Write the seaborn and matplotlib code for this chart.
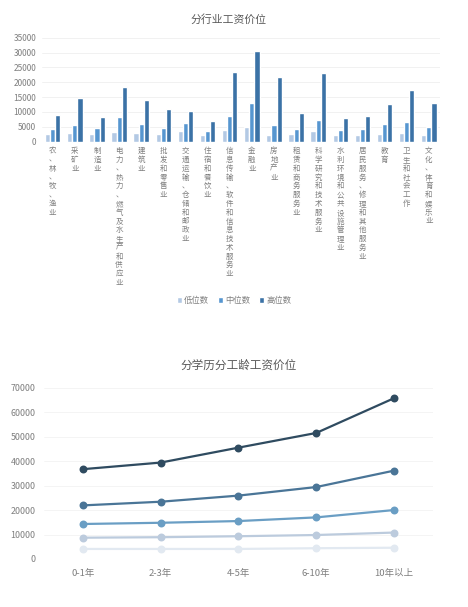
import matplotlib
matplotlib.use("Agg")
import matplotlib.pyplot as plt
import seaborn as sns
import pandas as pd

industries = ["农、林、牧、渔业", "采矿业", "制造业", "电力、热力、燃气及水生产和供应业", "建筑业",
              "批发和零售业", "交通运输、仓储和邮政业", "住宿和餐饮业", "信息传输、软件和信息技术服务业",
              "金融业", "房地产业", "租赁和商务服务业", "科学研究和技术服务业", "水利环境和公共设施管理业",
              "居民服务、修理和其他服务业", "教育", "卫生和社会工作", "文化、体育和娱乐业"]
low_vals = [2500, 2800, 2700, 3100, 2900, 2500, 3600, 2100, 3800, 5000, 2400, 2500, 3500, 2100, 2400, 2600, 2900, 2400]
mid_vals = [4150, 5500, 4600, 8400, 5800, 4700, 6200, 3700, 8600, 12900, 5600, 4300, 7400, 3800, 4400, 5800, 6500, 5000]
high_vals = [8900, 14600, 8400, 18300, 14100, 11000, 10200, 6800, 23600, 30500, 21700, 9800, 23100, 8000, 8750, 12700, 17400, 13100]
bar_series = ["低位数", "中位数", "高位数"]

years = ["0-1年", "2-3年", "4-5年", "6-10年", "10年以上"]
edu_series = ["博士", "硕士", "本科", "大专", "高中及以下"]
line_vals = {
    "博士": [36700, 39400, 45500, 51500, 65700],
    "硕士": [21900, 23400, 25900, 29400, 36100],
    "本科": [14300, 14800, 15500, 17000, 20000],
    "大专": [8700, 8900, 9300, 9800, 10800],
    "高中及以下": [4100, 4100, 4100, 4400, 4600],
}

sns.set_theme(style="white")
plt.rcParams['font.family'] = ['Noto Sans CJK SC', 'DejaVu Sans']
plt.rcParams['axes.unicode_minus'] = False

fig = plt.figure(figsize=(4.68, 6.07), dpi=100)
gray = "#7f7f7f"

# ---- Bar chart ----
ax1 = fig.add_axes([0.089, 0.7666, 0.851, 0.1713])
bar_df = pd.DataFrame({"行业": industries * 3,
                       "系列": sum([[s] * len(industries) for s in bar_series], []),
                       "工资": low_vals + mid_vals + high_vals})
sns.barplot(data=bar_df, x="行业", y="工资", hue="系列", order=industries, hue_order=bar_series,
            palette=["#b3c9e4", "#5696d0", "#3b72a6"], width=0.7, ax=ax1, legend=True,
            saturation=1)
ax1.set_ylim(0, 35000)
ax1.set_yticks(range(0, 35001, 5000))
ax1.set_xlim(-0.5, len(industries) - 0.5)
ax1.yaxis.grid(True, color="#efefef", linewidth=0.6)
ax1.set_axisbelow(True)
for s in ax1.spines.values():
    s.set_visible(False)
ax1.set_xlabel("")
ax1.set_ylabel("")
ax1.set_xticks(range(len(industries)))
ax1.set_xticklabels(["\n".join(list(n)) for n in industries], fontsize=5.4, color=gray,
                    va="top", linespacing=1.13)
ax1.tick_params(axis="x", length=0, pad=4)
ax1.tick_params(axis="y", labelsize=6, labelcolor=gray, length=0, pad=4)
ax1.set_title("分行业工资价位", fontsize=7.8, color="#595959", pad=11, x=0.47)
leg = ax1.legend(loc="center", bbox_to_anchor=(0.5, 0.505), bbox_transform=fig.transFigure,
                 ncol=3, frameon=False, fontsize=6, labelcolor=gray, handlelength=0.6,
                 handleheight=0.6, handletextpad=0.3, columnspacing=1.0)

# ---- Line chart ----
ax2 = fig.add_axes([0.094, 0.0791, 0.831, 0.2822])
line_df = pd.DataFrame({"工龄": years * len(edu_series),
                        "学历": sum([[e] * len(years) for e in edu_series], []),
                        "工资": sum([line_vals[e] for e in edu_series], [])})
sns.pointplot(data=line_df, x="工龄", y="工资", hue="学历", order=years, hue_order=edu_series,
              palette=["#2f4b60", "#4a7597", "#6a9ec4", "#bccbdd", "#e2e9f1"],
              markers="o", markersize=4.5, linewidth=1.6, errorbar=None, legend=False, ax=ax2)
ax2.set_ylim(0, 70000)
ax2.set_yticks(range(0, 70001, 10000))
ax2.set_xlim(-0.5, len(years) - 0.5)
ax2.yaxis.grid(True, color="#f3f3f3", linewidth=0.6)
ax2.set_axisbelow(True)
for s in ax2.spines.values():
    s.set_visible(False)
ax2.set_xlabel("")
ax2.set_ylabel("")
ax2.tick_params(axis="x", labelsize=6.8, labelcolor=gray, length=0, pad=7)
ax2.tick_params(axis="y", labelsize=6.4, labelcolor=gray, length=0, pad=6)
ax2.set_title("分学历分工龄工资价位", fontsize=8.4, color="#595959", pad=14)

fig.savefig("out.png", dpi=100, facecolor="white")
